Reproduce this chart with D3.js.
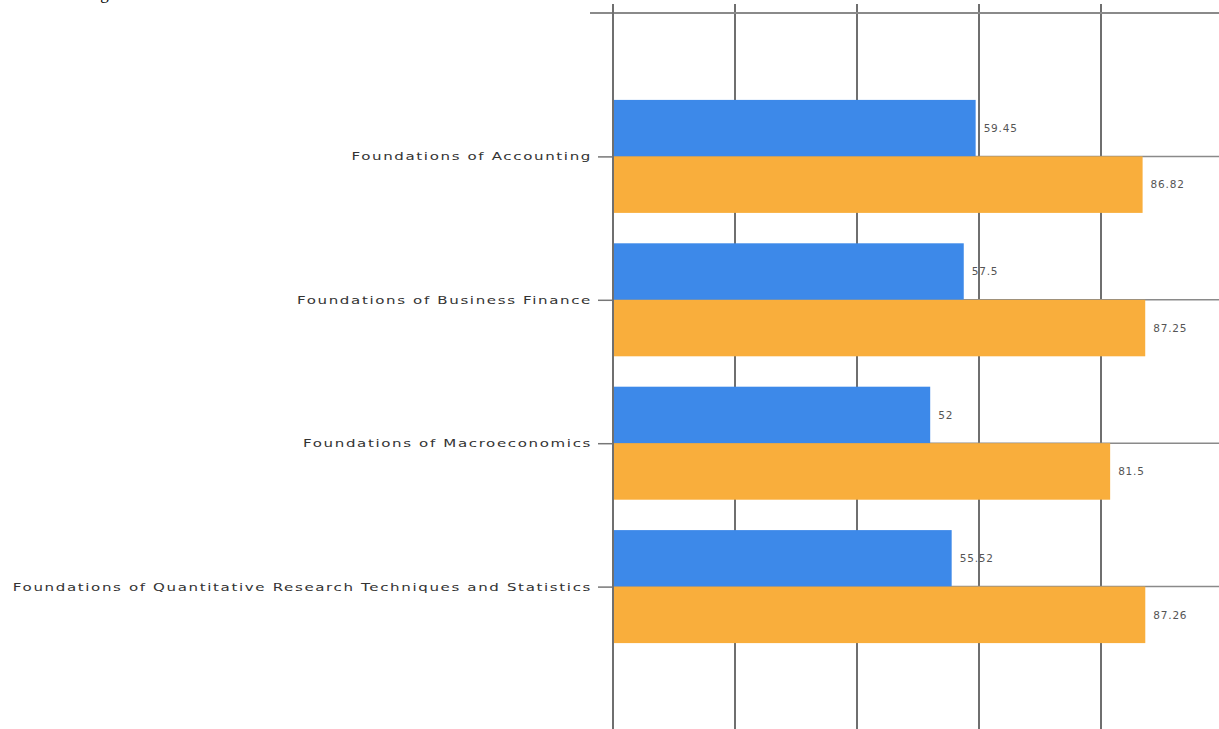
<!DOCTYPE html>
<html>
<head>
<meta charset="utf-8">
<script src="https://cdn.jsdelivr.net/npm/d3@7"></script>
<style>
  html, body { margin: 0; padding: 0; background: #fff; }
  svg { display: block; }
</style>
</head>
<body>
<svg id="chart" width="1219" height="729"></svg>
<script>
const categories = [
  "Foundations of Accounting",
  "Foundations of Business Finance",
  "Foundations of Macroeconomics",
  "Foundations of Quantitative Research Techniques and Statistics"
];
const seriesA = [59.45, 57.5, 52, 55.52];
const seriesB = [86.82, 87.25, 81.5, 87.26];
const labelsA = ["59.45", "57.5", "52", "55.52"];
const labelsB = ["86.82", "87.25", "81.5", "87.26"];
const gridValues = [20, 40, 60, 80, 100];

const svg = d3.select("#chart");
const W = 1219, H = 729;

const x = d3.scaleLinear().domain([0, 100]).range([613, 1223]);
const y = d3.scalePoint().domain(categories).range([13, 730]).padding(1);
const barH = 56.5;

// caption remnant at top
svg.append("text").attr("x", 86).attr("y", -1)
  .attr("font-family", "Liberation Serif, Times New Roman, serif")
  .attr("font-size", 17).attr("fill", "#000").text("Figure");

// vertical gridlines
svg.append("g").selectAll("line").data(gridValues).join("line")
  .attr("x1", d => x(d)).attr("x2", d => x(d))
  .attr("y1", 4).attr("y2", H)
  .attr("stroke", "#6f6f6f").attr("stroke-width", 2);

// top line
svg.append("line").attr("x1", 590).attr("x2", W).attr("y1", 13).attr("y2", 13)
  .attr("stroke", "#8a8a8a").attr("stroke-width", 2);

// horizontal category lines
svg.append("g").selectAll("line").data(categories).join("line")
  .attr("x1", x(0)).attr("x2", W)
  .attr("y1", d => y(d)).attr("y2", d => y(d))
  .attr("stroke", "#8a8a8a").attr("stroke-width", 1.5);

// bars
const g = svg.append("g");
g.selectAll("rect.a").data(categories).join("rect").attr("class", "a")
  .attr("x", x(0)).attr("y", d => y(d) - barH)
  .attr("width", (d, i) => x(seriesA[i]) - x(0)).attr("height", barH)
  .attr("fill", "#3d89e9");
g.selectAll("rect.b").data(categories).join("rect").attr("class", "b")
  .attr("x", x(0)).attr("y", d => y(d))
  .attr("width", (d, i) => x(seriesB[i]) - x(0)).attr("height", barH)
  .attr("fill", "#f9ae3c");

// value labels
const valFont = "DejaVu Sans, Verdana, sans-serif";
g.selectAll("text.la").data(categories).join("text").attr("class", "la")
  .attr("x", (d, i) => x(seriesA[i]) + 8).attr("y", d => y(d) - barH / 2)
  .attr("dy", "0.35em").attr("font-family", valFont)
  .attr("font-size", 10.5).attr("fill", "#555").attr("letter-spacing", 0.8)
  .text((d, i) => labelsA[i]);
g.selectAll("text.lb").data(categories).join("text").attr("class", "lb")
  .attr("x", (d, i) => x(seriesB[i]) + 8).attr("y", d => y(d) + barH / 2)
  .attr("dy", "0.35em").attr("font-family", valFont)
  .attr("font-size", 10.5).attr("fill", "#555").attr("letter-spacing", 0.8)
  .text((d, i) => labelsB[i]);

// y axis
const yAxis = d3.axisLeft(y).tickSize(15).tickPadding(6);
const ax = svg.append("g").attr("transform", `translate(${x(0)},0)`).call(yAxis);
ax.select(".domain").remove();
ax.selectAll(".tick line").attr("stroke", "#777").attr("stroke-width", 1.5);
const tt = ax.selectAll(".tick text")
  .attr("font-family", "DejaVu Sans, Verdana, sans-serif")
  .attr("font-size", 11).attr("fill", "#333").attr("letter-spacing", 1.2);
// stretch labels horizontally so the longest spans like the reference (~580px)
let maxLen = 0;
tt.each(function() { maxLen = Math.max(maxLen, this.getComputedTextLength()); });
const sx = 580 / maxLen;
tt.each(function() {
  const t = d3.select(this);
  const x0 = +t.attr("x");
  t.attr("x", x0 / sx).attr("transform", `scale(${sx},1)`);
});

svg.append("line").attr("x1", x(0)).attr("x2", x(0)).attr("y1", 4).attr("y2", H)
  .attr("stroke", "#6f6f6f").attr("stroke-width", 2);
</script>
</body>
</html>
